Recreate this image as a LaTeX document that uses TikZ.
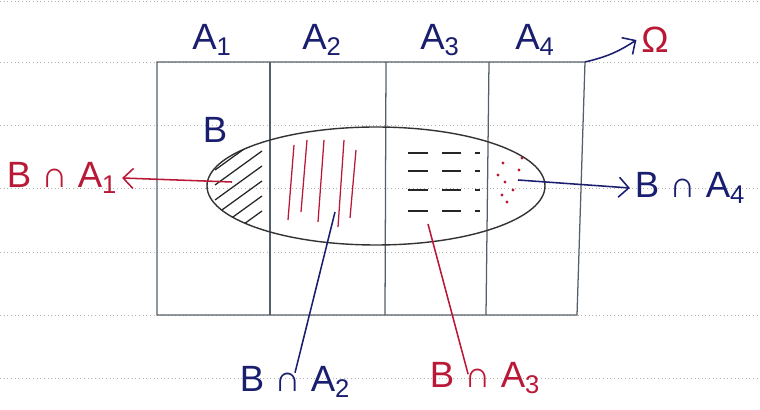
\documentclass[tikz,border=0pt]{standalone}
\usepackage{fontspec}
\setmainfont{Liberation Sans}
\usepackage{tikz}
\usetikzlibrary{arrows.meta,positioning}

\definecolor{inkblue}{RGB}{25,30,110}
\definecolor{inkred}{RGB}{185,25,55}
\definecolor{pencil}{RGB}{85,95,105}

\begin{document}
\begin{tikzpicture}[x=0.25mm, y=-0.25mm, >={Straight Barb[length=2.5mm]},
    every node/.style={font=\fontsize{26}{28}\selectfont},
    frame/.style={pencil, line width=0.9pt},
    ruled/.style={gray!60, dotted, line width=0.6pt},
    blueink/.style={inkblue, line width=1.1pt},
    redink/.style={inkred, line width=1.1pt}]
    \useasboundingbox (0,0) rectangle (760,410);

    % Notebook rules
    \foreach \y in {1,62,125,188,252,315,378}
        \draw[ruled] (0,\y) -- (760,\y);

    % Sample space and partition
    \draw[frame] (157,62) -- (585,62) -- (577,315) -- (157,315) -- cycle;
    \draw[frame] (270,62) -- (270,315);
    \draw[frame] (386,62) -- (385,315);
    \draw[frame] (489,62) -- (486,315);

    % Event B
    \draw[frame, black!80, line width=1pt] (376,186) ellipse (169 and 59);

    % Hatching of each piece
    \begin{scope}
        \clip (376,186) ellipse (169 and 59);
        \foreach \y in {148,163,178,193,208,223}
            \draw[black!85, line width=0.9pt] (215,\y+22) -- (262,\y-12);
        \foreach \x/\t/\b in {290/145/220, 303/140/212, 320/140/222, 340/140/227, 352/150/218}
            \draw[redink, line width=0.9pt] (\x+4,\t) -- (\x-2,\b);
        \foreach \y in {153,171,190,211}
            \draw[black!85, line width=0.9pt, dash pattern=on 14pt off 10pt] (408,\y) -- (480,\y);
        \foreach \x/\y in {503/163, 522/158, 498/175, 519/170, 505/182, 513/190, 502/195, 507/202}
            \fill[inkred] (\x,\y) circle (1.6);
    \end{scope}

    % Labels of the partition
    \node[inkblue] (a1) at (212,40) {A\textsubscript{1}};
    \node[inkblue] (a2) at (322,40) {A\textsubscript{2}};
    \node[inkblue] (a3) at (440,40) {A\textsubscript{3}};
    \node[inkblue] (a4) at (535,40) {A\textsubscript{4}};
    \node[inkred] (omega) at (655,40) {Ω};
    \node[inkblue] (blab) at (215,130) {B};

    % Intersections
    \node[inkred] (ba1) at (62,178) {B ∩ A\textsubscript{1}};
    \node[inkblue] (ba4) at (690,188) {B ∩ A\textsubscript{4}};
    \node[inkblue] (ba2) at (295,382) {B ∩ A\textsubscript{2}};
    \node[inkred] (ba3) at (485,378) {B ∩ A\textsubscript{3}};

    \coordinate (corner) at (585,62);
    \coordinate (p1) at (232,182);
    \coordinate (p2) at (335,212);
    \coordinate (p3) at (428,224);
    \coordinate (p4) at (518,180);

    \draw[->, blueink] (corner) to[bend right=10] (omega.west);
    \draw[->, redink] (p1) -- (ba1.east);
    \draw[->, blueink] (p4) -- (ba4.west);
    \draw[blueink] (p2) -- ([yshift=-8pt]ba2.north);
    \draw[redink] (p3) -- ([xshift=-12pt,yshift=-12pt]ba3.north);
\end{tikzpicture}
\end{document}
